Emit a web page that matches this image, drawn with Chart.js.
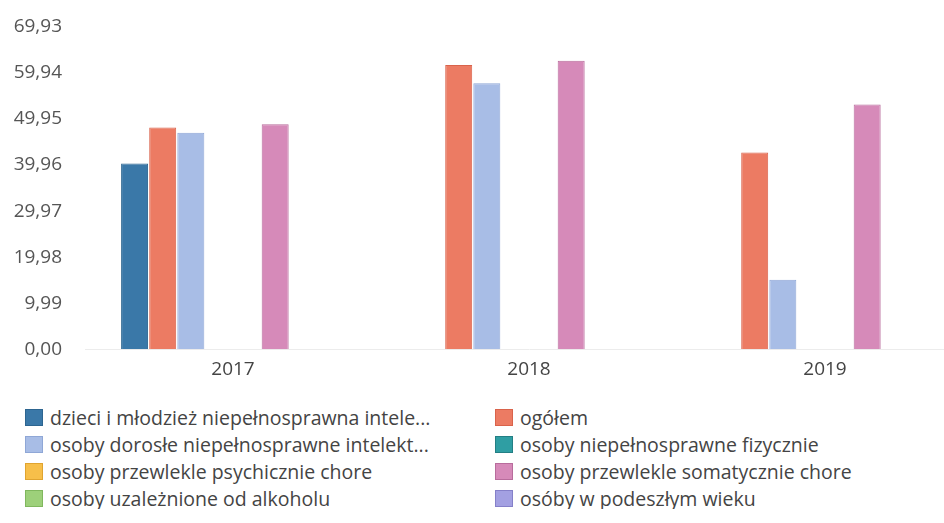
<!DOCTYPE html>
<html>
<head>
<meta charset="utf-8">
<script src="https://cdn.jsdelivr.net/npm/chart.js@4"></script>
<style>
  body { margin: 0; background: #fff; font-family: "Open Sans", "Noto Sans", sans-serif; overflow: hidden; }
  #wrap { position: relative; width: 973px; height: 392px; }
  #legend {
    display: grid;
    grid-template-columns: 470px 474px;
    row-gap: 5px;
    margin-top: 14px;
    color: #444;
    font-size: 19.5px;
  }
  #legend .item { display: flex; align-items: center; height: 22px; white-space: nowrap; }
  #legend .item.left { padding-left: 25px; }
  #legend .item.right { padding-left: 25px; }
  #legend .box { width: 18px; height: 17px; margin-right: 7px; box-sizing: border-box; }
</style>
</head>
<body>
<div id="wrap"><canvas id="chart"></canvas></div>
<div id="legend"></div>
<script>
// Data
const years = ['2017', '2018', '2019'];
const seriesNames = [
    'dzieci i młodzież niepełnosprawna intele...',
    'ogółem',
    'osoby dorosłe niepełnosprawne intelekt...',
    'osoby niepełnosprawne fizycznie',
    'osoby przewlekle psychicznie chore',
    'osoby przewlekle somatycznie chore',
    'osoby uzależnione od alkoholu',
    'osóby w podeszłym wieku'
];
const dzieci = [40.3, null, null];
const ogolem = [48.1, 61.7, 42.7];
const dorosle = [47.0, 57.7, 15.1];
const fizycznie = [null, null, null];
const psychicznie = [null, null, null];
const somatycznie = [48.8, 62.6, 53.1];
const alkohol = [null, null, null];
const podeszly = [null, null, null];
const yTicks = [0, 9.99, 19.98, 29.97, 39.96, 49.95, 59.94, 69.93];

const seriesValues = [dzieci, ogolem, dorosle, fizycznie, psychicznie, somatycznie, alkohol, podeszly];
const colors = ['#3a78a8', '#ec7b63', '#a8bde6', '#2f9ea3', '#f7bf4a', '#d68ab9', '#9dd07a', '#a3a0e2'];
const borders = ['#2d6590', '#d9634b', '#8fa7d6', '#237f84', '#e0a430', '#b86c9c', '#80b75e', '#8580c9'];

const datasets = seriesNames.map((name, i) => ({
    label: name,
    data: seriesValues[i],
    backgroundColor: colors[i],
    borderColor: borders[i],
    borderWidth: { left: 1, right: 1, top: 1, bottom: 0 },
    categoryPercentage: 0.76,
    barPercentage: 0.96
}));

// Chart initialization
const ctx = document.getElementById('chart').getContext('2d');
new Chart(ctx, {
    type: 'bar',
    data: {
        labels: years,
        datasets: datasets
    },
    options: {
        responsive: true,
        maintainAspectRatio: false,
        animation: false,
        layout: {
            padding: { top: 27, right: 0, left: 0, bottom: 2 }
        },
        plugins: {
            legend: { display: false },
            tooltip: { enabled: false }
        },
        scales: {
            y: {
                min: 0,
                max: 69.93,
                afterBuildTicks: axis => {
                    axis.ticks = yTicks.map(v => ({ value: v }));
                },
                afterFit: axis => {
                    axis.width = 85;
                    axis.paddingTop = 0;
                },
                grid: { display: false, drawTicks: false },
                border: { display: false },
                ticks: {
                    padding: 23,
                    color: '#555',
                    font: { family: 'Open Sans', size: 19 },
                    callback: v => Number(v).toFixed(2).replace('.', ',')
                }
            },
            x: {
                grid: { display: false, drawTicks: false },
                border: { display: true, color: '#ececec' },
                ticks: {
                    padding: 9,
                    color: '#444',
                    font: { family: 'Open Sans', size: 19 }
                }
            }
        }
    }
});

// Legend (two columns, row-wise)
const legend = document.getElementById('legend');
seriesNames.forEach((name, i) => {
    const item = document.createElement('div');
    item.className = 'item ' + (i % 2 === 0 ? 'left' : 'right');
    const box = document.createElement('span');
    box.className = 'box';
    box.style.background = colors[i];
    box.style.border = '1px solid ' + borders[i];
    const text = document.createElement('span');
    text.textContent = name;
    item.appendChild(box);
    item.appendChild(text);
    legend.appendChild(item);
});
</script>
</body>
</html>
